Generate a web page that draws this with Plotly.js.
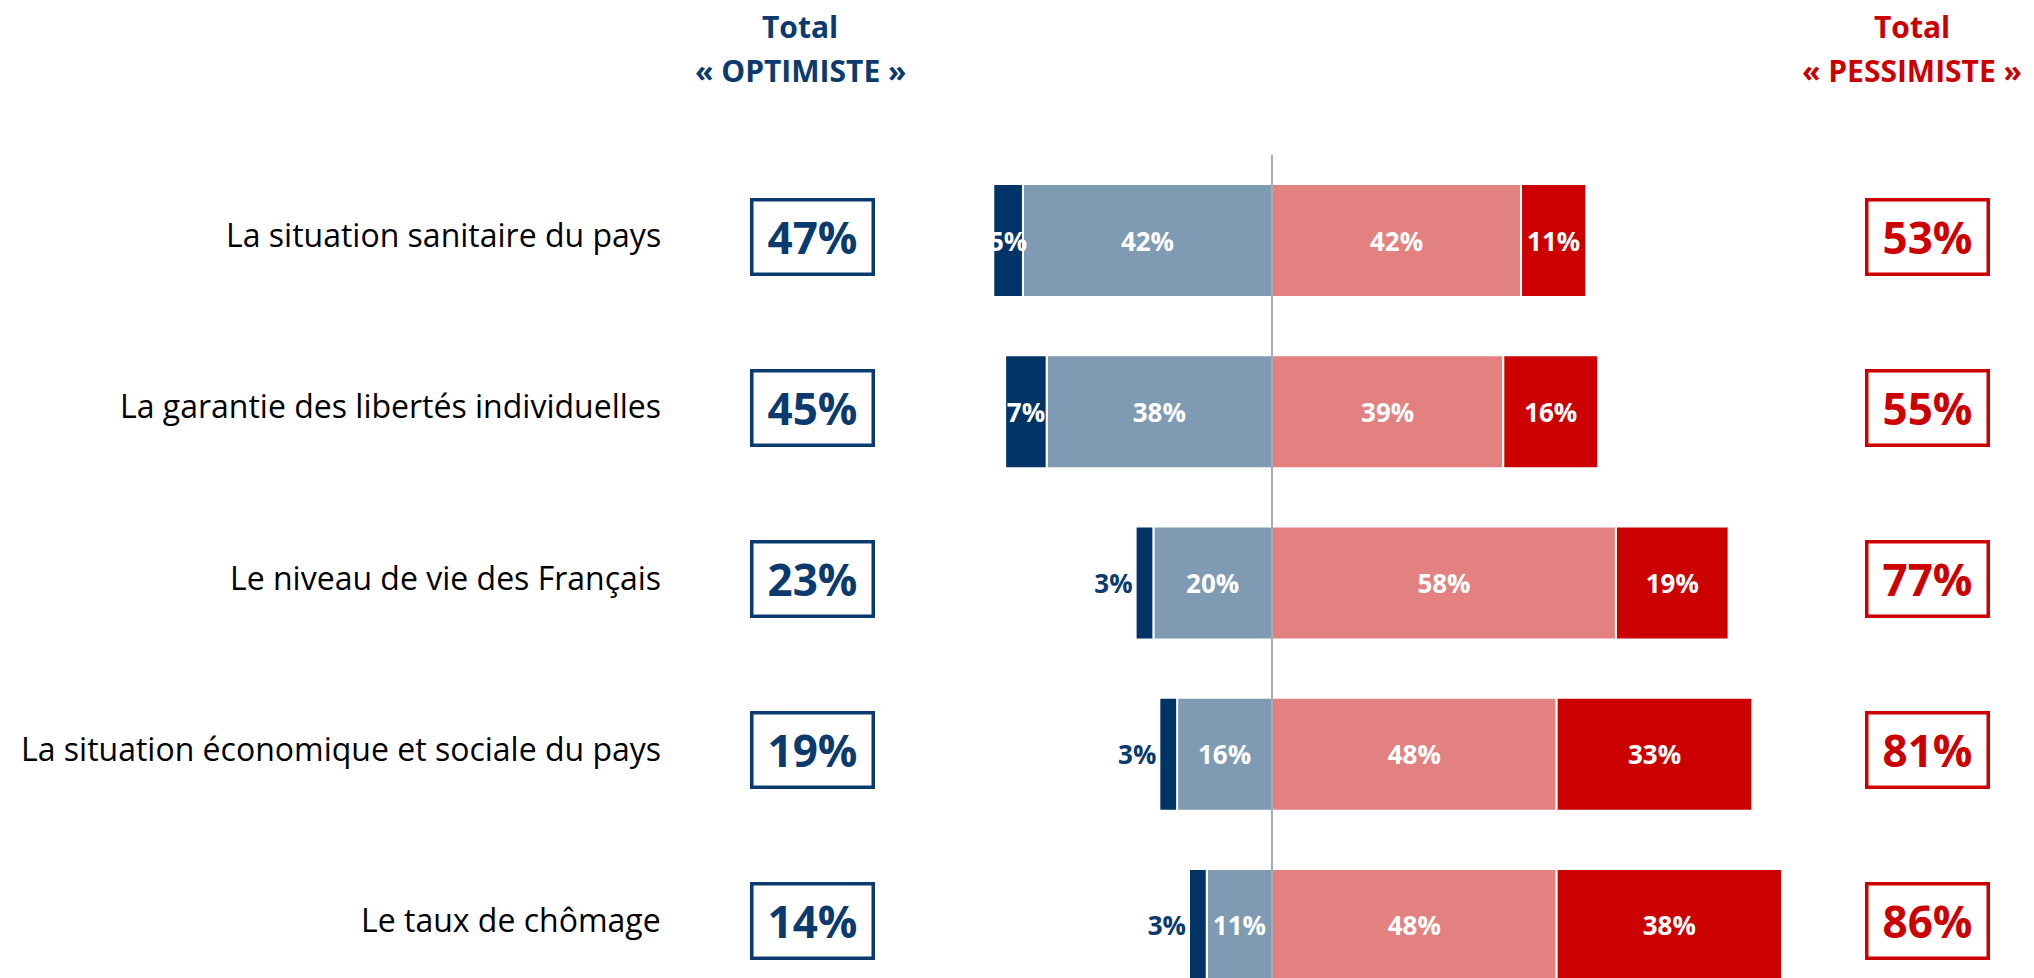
<!DOCTYPE html>
<html>
<head>
<meta charset="utf-8">
<script src="https://cdn.plot.ly/plotly-3.0.1.min.js"></script>
<style>html,body{margin:0;padding:0;background:#fff;}#chart{width:2034px;height:978px;}</style>
</head>
<body>
<div id="chart"></div>
<script>
// ---- data ----
const categories = [
  "La situation sanitaire du pays",
  "La garantie des libertés individuelles",
  "Le niveau de vie des Français",
  "La situation économique et sociale du pays",
  "Le taux de chômage"
];
const tresOptimiste = [5, 7, 3, 3, 3];
const plutotOptimiste = [42, 38, 20, 16, 11];
const plutotPessimiste = [42, 39, 58, 48, 48];
const tresPessimiste = [11, 16, 19, 33, 38];
const totalOptimiste = [47, 45, 23, 19, 14];
const totalPessimiste = [53, 55, 77, 81, 86];
const headerOpt = ["Total", "« OPTIMISTE »"];
const headerPes = ["Total", "« PESSIMISTE »"];

// ---- styling ----
const FONT = "'Open Sans', sans-serif";
const NAVY = "#003366";
const NAVY_TXT = "#0A3A6E";
const LIGHTBLUE = "#7F9BB4";
const PINK = "#E38181";
const RED = "#CC0000";
const pct = a => a.map(v => v + "%");
const neg = a => a.map(v => -v);

function barTrace(vals, color, xs, positions) {
  return {
    type: "bar", orientation: "h", y: categories, x: xs,
    text: pct(vals), textposition: positions || "inside",
    insidetextanchor: "middle", constraintext: "none", textangle: 0,
    insidetextfont: {family: FONT, size: 26, color: "#ffffff", weight: "bold"},
    outsidetextfont: {family: FONT, size: 26, color: NAVY_TXT, weight: "bold"},
    marker: {color: color, line: {color: "#ffffff", width: 2}},
    cliponaxis: false, hoverinfo: "skip", showlegend: false
  };
}

const traces = [
  barTrace(plutotOptimiste, LIGHTBLUE, neg(plutotOptimiste)),
  barTrace(tresOptimiste, NAVY, neg(tresOptimiste),
    tresOptimiste.map(v => v >= 5 ? "inside" : "outside")),
  barTrace(plutotPessimiste, PINK, plutotPessimiste),
  barTrace(tresPessimiste, RED, tresPessimiste)
];

const W = 2034, H = 978;
const CENTER = 1272, SCALE = 5.93;
const px = p => p / W;
const py = p => 1 - p / H;

const annotations = [];
categories.forEach((c, i) => {
  annotations.push({
    xref: "paper", yref: "y", x: px(663), y: c, xanchor: "right", yanchor: "middle", yshift: 6,
    text: c, showarrow: false, font: {family: FONT, size: 32, color: "#000000"}
  });
  annotations.push({
    xref: "paper", yref: "y", x: px(812), y: c, xanchor: "center", yanchor: "middle", yshift: 4,
    text: "<b>" + totalOptimiste[i] + "%</b>", showarrow: false,
    width: 118, height: 71, borderwidth: 3.5, bordercolor: NAVY_TXT, borderpad: 0,
    font: {family: FONT, size: 44, color: NAVY_TXT}
  });
  annotations.push({
    xref: "paper", yref: "y", x: px(1927), y: c, xanchor: "center", yanchor: "middle", yshift: 4,
    text: "<b>" + totalPessimiste[i] + "%</b>", showarrow: false,
    width: 118, height: 71, borderwidth: 3.5, bordercolor: RED, borderpad: 0,
    font: {family: FONT, size: 44, color: RED}
  });
});
[[headerOpt, 800, NAVY_TXT], [headerPes, 1912, RED]].forEach(([lines, x, col]) => {
  lines.forEach((t, j) => {
    annotations.push({
      xref: "paper", yref: "paper", x: px(x), y: py(j === 0 ? 26 : 71),
      xanchor: "center", yanchor: "middle", text: "<b>" + t + "</b>", showarrow: false,
      font: {family: FONT, size: 30, color: col}
    });
  });
});

const layout = {
  width: W, height: H,
  margin: {l: 0, r: 0, t: 0, b: 0, pad: 0},
  paper_bgcolor: "#ffffff", plot_bgcolor: "#ffffff",
  barmode: "relative", bargap: 0.34,
  xaxis: {range: [-CENTER / SCALE, (W - CENTER) / SCALE], visible: false, fixedrange: true},
  yaxis: {type: "category", range: [4.307, -1.405], visible: false, fixedrange: true},
  shapes: [{
    type: "line", xref: "x", yref: "paper", x0: 0, x1: 0, y0: 0, y1: py(155),
    line: {color: "#7f7f7f", width: 1.3}, layer: "above"
  }],
  annotations: annotations,
  showlegend: false
};

Plotly.newPlot("chart", traces, layout, {staticPlot: true, displayModeBar: false});
</script>
</body>
</html>
